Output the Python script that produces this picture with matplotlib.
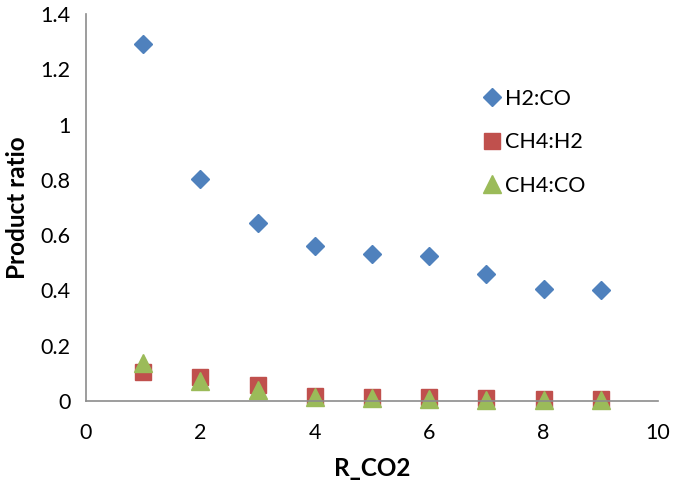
import matplotlib
matplotlib.use("Agg")
import matplotlib.pyplot as plt

plt.rcParams["font.family"] = ["Lato", "DejaVu Sans"]

# data
r_co2 = [1, 2, 3, 4, 5, 6, 7, 8, 9]
h2_co = [1.292, 0.803, 0.644, 0.561, 0.532, 0.525, 0.459, 0.405, 0.402]
ch4_h2 = [0.106, 0.088, 0.058, 0.019, 0.016, 0.013, 0.010, 0.009, 0.007]
ch4_co = [0.138, 0.073, 0.039, 0.015, 0.010, 0.008, 0.005, 0.004, 0.003]

fig = plt.figure(figsize=(6.85, 4.91), dpi=100)
ax = fig.add_axes([0.1255, 0.1833, 0.835, 0.7882])

ax.plot(r_co2, h2_co, "D", color="#4F81BD", markersize=9, label="H2:CO", clip_on=False)
ax.plot(r_co2, ch4_h2, "s", color="#C0504D", markersize=11.5, label="CH4:H2", clip_on=False)
ax.plot(r_co2, ch4_co, "^", color="#9BBB59", markersize=13, label="CH4:CO", clip_on=False)

ax.set_xlim(0, 10)
ax.set_ylim(0, 1.4)
ax.set_xticks([0, 2, 4, 6, 8, 10])
ax.set_yticks([0, 0.2, 0.4, 0.6, 0.8, 1.0, 1.2, 1.4])
ax.set_yticklabels(["0", "0.2", "0.4", "0.6", "0.8", "1", "1.2", "1.4"])
ax.tick_params(length=0, labelsize=15.5)
ax.tick_params(axis="y", pad=11)
ax.tick_params(axis="x", pad=16)

for side in ["top", "right"]:
    ax.spines[side].set_visible(False)
for side in ["left", "bottom"]:
    ax.spines[side].set_color("#8C8C8C")
    ax.spines[side].set_linewidth(1.2)

ax.set_xlabel("R_CO2", fontsize=17.5, fontweight="bold", labelpad=10)
ax.set_ylabel("Product ratio", fontsize=17.5, fontweight="bold", labelpad=8)

ax.legend(loc="upper left", bbox_to_anchor=(0.673, 0.835), frameon=False, fontsize=15.5,
          labelspacing=1.1, handletextpad=0.1, handlelength=1.0, borderpad=0)

fig.savefig("out.png", dpi=100)
